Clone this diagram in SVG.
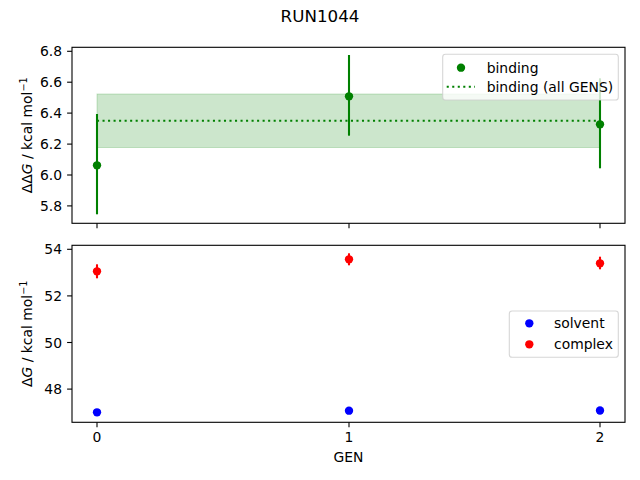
<svg xmlns="http://www.w3.org/2000/svg" width="640" height="480" viewBox="0 0 640 480">
<style>
text{font-family:"DejaVu Sans",sans-serif;fill:#000}
.t{font-size:13.9px}
.tr{font-size:13.9px;text-anchor:end}
.tm{font-size:13.9px;text-anchor:middle}
.ax{fill:none;stroke:#000;stroke-width:1.1}
.tk{stroke:#000;stroke-width:1.1}
.eg{stroke:#008000;stroke-width:2.08}
.er{stroke:#ff0000;stroke-width:2.08}
.leg{fill:#fff;fill-opacity:0.8;stroke:#cccccc;stroke-opacity:0.8;stroke-width:1.1}
</style>
<rect width="640" height="480" fill="#fff"/>
<text x="320" y="22" style="font-size:16.7px;text-anchor:middle">RUN1044</text>

<g id="top-axes">
  <rect x="97" y="94" width="503" height="53.5" fill="#008000" fill-opacity="0.2" stroke="#008000" stroke-opacity="0.2" stroke-width="1"/>
  <line x1="97" y1="120.7" x2="600" y2="120.7" stroke="#008000" stroke-width="2.08" stroke-dasharray="2.08 3.44"/>
  <line class="eg" x1="97" y1="114" x2="97" y2="214.3"/>
  <line class="eg" x1="349" y1="55" x2="349" y2="135.7"/>
  <line class="eg" x1="600" y1="78.3" x2="600" y2="168.3"/>
  <circle cx="97" cy="165.3" r="4.17" fill="#008000"/>
  <circle cx="349" cy="96.3" r="4.17" fill="#008000"/>
  <circle cx="600" cy="124.3" r="4.17" fill="#008000"/>
  <rect class="ax" x="72" y="47.3" width="553" height="176"/>
  <g class="tk">
    <line x1="72" y1="51.3" x2="67.1" y2="51.3"/>
    <line x1="72" y1="82.2" x2="67.1" y2="82.2"/>
    <line x1="72" y1="113.1" x2="67.1" y2="113.1"/>
    <line x1="72" y1="144.1" x2="67.1" y2="144.1"/>
    <line x1="72" y1="175" x2="67.1" y2="175"/>
    <line x1="72" y1="205.9" x2="67.1" y2="205.9"/>
    <line x1="97" y1="223.3" x2="97" y2="228.2"/>
    <line x1="349" y1="223.3" x2="349" y2="228.2"/>
    <line x1="600" y1="223.3" x2="600" y2="228.2"/>
  </g>
  <text class="tr" x="62" y="56.3">6.8</text>
  <text class="tr" x="62" y="87.2">6.6</text>
  <text class="tr" x="62" y="118.1">6.4</text>
  <text class="tr" x="62" y="149.1">6.2</text>
  <text class="tr" x="62" y="180">6.0</text>
  <text class="tr" x="62" y="210.9">5.8</text>
  <text class="tm" transform="translate(31.5,135.3) rotate(-90)">ΔΔ<tspan font-style="italic">G</tspan> / kcal mol<tspan dy="-5" font-size="9.7px">−1</tspan></text>
  <g id="top-legend">
    <rect class="leg" x="442.7" y="54.3" width="175.6" height="45.7" rx="2.8"/>
    <circle cx="461" cy="67.7" r="4.17" fill="#008000"/>
    <text class="t" x="486.7" y="72.6">binding</text>
    <line x1="446.7" y1="86.7" x2="475" y2="86.7" stroke="#008000" stroke-width="2.08" stroke-dasharray="2.08 3.44"/>
    <text class="t" x="486.7" y="91.6">binding (all GENS)</text>
  </g>
</g>

<g id="bottom-axes">
  <line class="er" x1="97" y1="264.3" x2="97" y2="278.3"/>
  <line class="er" x1="349" y1="253.3" x2="349" y2="265.3"/>
  <line class="er" x1="600" y1="256.7" x2="600" y2="269.3"/>
  <circle cx="97" cy="271.3" r="4.17" fill="#ff0000"/>
  <circle cx="349" cy="259.3" r="4.17" fill="#ff0000"/>
  <circle cx="600" cy="263.3" r="4.17" fill="#ff0000"/>
  <circle cx="97" cy="412.3" r="4.17" fill="#0000ff"/>
  <circle cx="349" cy="410.7" r="4.17" fill="#0000ff"/>
  <circle cx="600" cy="410.5" r="4.17" fill="#0000ff"/>
  <rect class="ax" x="72" y="245.3" width="553" height="177"/>
  <g class="tk">
    <line x1="72" y1="249.3" x2="67.1" y2="249.3"/>
    <line x1="72" y1="295.9" x2="67.1" y2="295.9"/>
    <line x1="72" y1="342.5" x2="67.1" y2="342.5"/>
    <line x1="72" y1="389.1" x2="67.1" y2="389.1"/>
    <line x1="97" y1="422.3" x2="97" y2="427.2"/>
    <line x1="349" y1="422.3" x2="349" y2="427.2"/>
    <line x1="600" y1="422.3" x2="600" y2="427.2"/>
  </g>
  <text class="tr" x="62" y="254.3">54</text>
  <text class="tr" x="62" y="300.9">52</text>
  <text class="tr" x="62" y="347.5">50</text>
  <text class="tr" x="62" y="394.1">48</text>
  <text class="tm" x="97" y="442.3">0</text>
  <text class="tm" x="349" y="442.3">1</text>
  <text class="tm" x="600" y="442.3">2</text>
  <text class="tm" x="348.5" y="462.3">GEN</text>
  <text class="tm" transform="translate(31.5,333.8) rotate(-90)">Δ<tspan font-style="italic">G</tspan> / kcal mol<tspan dy="-5" font-size="9.7px">−1</tspan></text>
  <g id="bottom-legend">
    <rect class="leg" x="509.3" y="311" width="109" height="46.3" rx="2.8"/>
    <circle cx="529.3" cy="323.3" r="4.17" fill="#0000ff"/>
    <text class="t" x="554" y="328.2">solvent</text>
    <circle cx="529.3" cy="344.3" r="4.17" fill="#ff0000"/>
    <text class="t" x="554" y="349.2">complex</text>
  </g>
</g>
</svg>
